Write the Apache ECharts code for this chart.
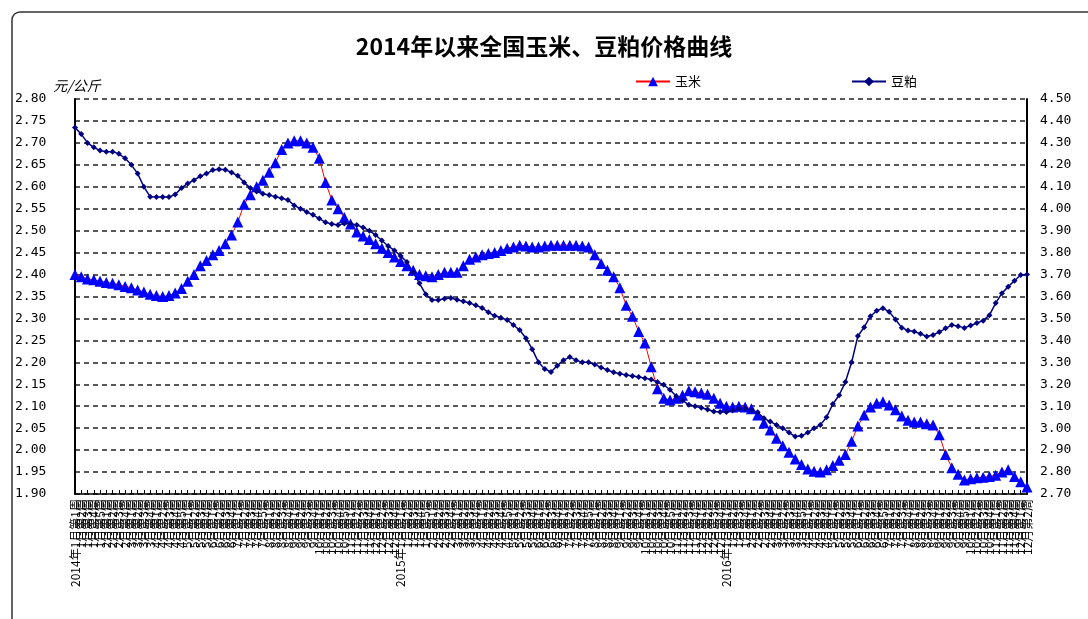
<!DOCTYPE html>
<html>
<head>
<meta charset="utf-8">
<script src="https://cdn.jsdelivr.net/npm/echarts@6/dist/echarts.min.js"></script>
<style>
html,body{margin:0;padding:0;background:#fff;}
#chart{width:1088px;height:619px;}
</style>
</head>
<body>
<div id="chart"></div>
<script>
// Week labels (categories)
const weeks2014 = [
  "2014年1月第1周","1月第2周","1月第3周","1月第4周","1月第5周",
  "2月第1周","2月第2周","2月第3周","2月第4周",
  "3月第1周","3月第2周","3月第3周","3月第4周",
  "4月第1周","4月第2周","4月第3周","4月第4周","4月第5周",
  "5月第1周","5月第2周","5月第3周","5月第4周",
  "6月第1周","6月第2周","6月第3周","6月第4周",
  "7月第1周","7月第2周","7月第3周","7月第4周","7月第5周",
  "8月第1周","8月第2周","8月第3周","8月第4周",
  "9月第1周","9月第2周","9月第3周","9月第4周",
  "10月第1周","10月第2周","10月第3周","10月第4周","10月第5周",
  "11月第1周","11月第2周","11月第3周","11月第4周",
  "12月第1周","12月第2周","12月第3周","12月第4周"
];
const weeks2015 = [
  "2015年1月第1周","1月第2周","1月第3周","1月第4周","1月第5周",
  "2月第1周","2月第2周","2月第3周","2月第4周",
  "3月第1周","3月第2周","3月第3周","3月第4周",
  "4月第1周","4月第2周","4月第3周","4月第4周","4月第5周",
  "5月第1周","5月第2周","5月第3周","5月第4周",
  "6月第1周","6月第2周","6月第3周","6月第4周",
  "7月第1周","7月第2周","7月第3周","7月第4周","7月第5周",
  "8月第1周","8月第2周","8月第3周","8月第4周",
  "9月第1周","9月第2周","9月第3周","9月第4周",
  "10月第1周","10月第2周","10月第3周","10月第4周","10月第5周",
  "11月第1周","11月第2周","11月第3周","11月第4周",
  "12月第1周","12月第2周","12月第3周","12月第4周"
];
const weeks2016 = [
  "2016年1月第1周","1月第2周","1月第3周","1月第4周",
  "2月第1周","2月第2周","2月第3周","2月第4周",
  "3月第1周","3月第2周","3月第3周","3月第4周","3月第5周",
  "4月第1周","4月第2周","4月第3周","4月第4周",
  "5月第1周","5月第2周","5月第3周","5月第4周",
  "6月第1周","6月第2周","6月第3周","6月第4周","6月第5周",
  "7月第1周","7月第2周","7月第3周","7月第4周",
  "8月第1周","8月第2周","8月第3周","8月第4周",
  "9月第1周","9月第2周","9月第3周","9月第4周","9月第5周",
  "10月第1周","10月第2周","10月第3周","10月第4周",
  "11月第1周","11月第2周","11月第3周","11月第4周",
  "12月第1周","12月第2周"
];

// 玉米 (元/公斤, left axis)
const corn2014 = [
  2.40,2.395,2.39,2.388,2.385,2.382,2.38,2.377,2.373,2.37,
  2.365,2.36,2.355,2.352,2.35,2.352,2.358,2.368,2.385,2.40,
  2.42,2.432,2.445,2.455,2.47,2.49,2.52,2.56,2.582,2.60,
  2.615,2.633,2.655,2.685,2.70,2.705,2.705,2.70,2.69,2.665,
  2.61,2.57,2.55,2.53,2.515,2.497,2.488,2.48,2.47,2.46,
  2.45,2.44
];
const corn2015 = [
  2.43,2.42,2.41,2.40,2.397,2.395,2.40,2.405,2.405,2.405,
  2.42,2.435,2.44,2.445,2.448,2.45,2.455,2.46,2.463,2.467,
  2.465,2.463,2.463,2.465,2.467,2.467,2.467,2.467,2.467,2.465,
  2.463,2.445,2.425,2.41,2.395,2.37,2.33,2.305,2.27,2.244,
  2.19,2.14,2.118,2.114,2.118,2.125,2.135,2.133,2.13,2.127,
  2.118,2.107
];
const corn2016 = [
  2.10,2.098,2.10,2.098,2.094,2.08,2.062,2.046,2.027,2.01,
  1.995,1.98,1.967,1.957,1.952,1.95,1.955,1.965,1.977,1.99,
  2.02,2.055,2.08,2.098,2.107,2.11,2.103,2.092,2.078,2.068,
  2.064,2.064,2.06,2.057,2.035,1.99,1.96,1.945,1.932,1.935,
  1.937,1.938,1.94,1.943,1.95,1.955,1.94,1.928,1.916
];

// 豆粕 (right axis)
const soymeal2014 = [
  4.37,4.34,4.30,4.28,4.265,4.26,4.26,4.25,4.23,4.20,
  4.16,4.10,4.055,4.053,4.053,4.053,4.065,4.095,4.115,4.13,
  4.148,4.16,4.176,4.18,4.178,4.165,4.15,4.12,4.094,4.078,
  4.068,4.062,4.055,4.048,4.04,4.015,4.0,3.985,3.972,3.955,
  3.938,3.93,3.926,3.933,3.932,3.926,3.915,3.9,3.88,3.855,
  3.83,3.81
];
const soymeal2015 = [
  3.785,3.757,3.71,3.66,3.61,3.584,3.584,3.59,3.593,3.585,
  3.578,3.57,3.56,3.548,3.528,3.512,3.503,3.493,3.47,3.447,
  3.41,3.36,3.3,3.27,3.256,3.285,3.31,3.324,3.31,3.30,
  3.30,3.29,3.277,3.265,3.255,3.248,3.242,3.238,3.233,3.228,
  3.222,3.21,3.198,3.175,3.145,3.125,3.107,3.1,3.093,3.085,
  3.076,3.074
];
const soymeal2016 = [
  3.074,3.08,3.088,3.09,3.082,3.072,3.045,3.03,3.015,3.0,
  2.98,2.962,2.965,2.98,3.0,3.015,3.05,3.11,3.15,3.21,
  3.30,3.42,3.46,3.51,3.535,3.547,3.53,3.495,3.458,3.445,
  3.44,3.43,3.418,3.425,3.438,3.455,3.47,3.465,3.457,3.468,
  3.479,3.49,3.515,3.57,3.615,3.645,3.672,3.698,3.70
];

const categories = weeks2014.concat(weeks2015, weeks2016);
const cornPrice = corn2014.concat(corn2015, corn2016);
const soymealPrice = soymeal2014.concat(soymeal2015, soymeal2016);

const chart = echarts.init(document.getElementById('chart'));
const labelFont = 'DejaVu Sans Mono';
chart.setOption({
  animation: false,
  backgroundColor: '#fff',
  title: {
    text: '2014年以来全国玉米、豆粕价格曲线',
    left: 'center',
    top: 30,
    textStyle: { fontSize: 23, fontWeight: 'bold', color: '#000', fontFamily: 'Noto Sans CJK SC' }
  },
  graphic: [{
    type: 'rect',
    silent: true,
    shape: { x: 12, y: 12, width: 1200, height: 700, r: 8 },
    style: { fill: 'none', stroke: '#333', lineWidth: 1.5 }
  }],
  legend: {
    data: ['玉米', '豆粕'],
    left: 630,
    top: 70,
    itemGap: 150,
    itemWidth: 34,
    itemHeight: 12,
    textStyle: { fontSize: 13, color: '#000', fontFamily: 'Noto Sans CJK SC' }
  },
  grid: { left: 75, right: 61, top: 99, bottom: 125 },
  xAxis: {
    type: 'category',
    data: categories,
    boundaryGap: false,
    axisLine: { lineStyle: { color: '#000', width: 1.5 } },
    axisTick: { show: true, inside: true, length: 4, interval: 0, lineStyle: { color: '#000' } },
    axisLabel: { interval: 0, rotate: 90, fontSize: 12, color: '#000', margin: 5, fontFamily: 'Noto Sans CJK SC' },
    splitLine: { show: false }
  },
  yAxis: [{
    type: 'value',
    min: 1.9,
    max: 2.8,
    interval: 0.05,
    position: 'left',
    name: '元/公斤',
    nameLocation: 'end',
    nameGap: 6,
    nameTextStyle: { fontSize: 14, fontStyle: 'italic', color: '#000', align: 'center', fontFamily: 'Noto Sans CJK SC', padding: [0, 0, 0, 4] },
    axisLine: { show: true, lineStyle: { color: '#000', width: 2 } },
    axisTick: { show: false },
    axisLabel: { formatter: v => v.toFixed(2), align: 'left', margin: 60, fontSize: 13, color: '#000', fontFamily: labelFont },
    splitLine: { show: true, lineStyle: { type: [5, 4], color: '#222', width: 1.5 } }
  }, {
    type: 'value',
    min: 2.7,
    max: 4.5,
    interval: 0.1,
    position: 'right',
    axisLine: { show: true, lineStyle: { color: '#000', width: 2 } },
    axisTick: { show: false },
    axisLabel: { formatter: v => v.toFixed(2), margin: 13, fontSize: 13, color: '#000', fontFamily: labelFont },
    splitLine: { show: false }
  }],
  series: [{
    name: '玉米',
    type: 'line',
    yAxisIndex: 0,
    data: cornPrice,
    symbol: 'triangle',
    symbolSize: 11,
    showAllSymbol: true,
    itemStyle: { color: '#0000FF' },
    lineStyle: { color: '#FF0000', width: 1 }
  }, {
    name: '豆粕',
    type: 'line',
    yAxisIndex: 1,
    data: soymealPrice,
    symbol: 'diamond',
    symbolSize: 6,
    showAllSymbol: true,
    itemStyle: { color: '#000080' },
    lineStyle: { color: '#000080', width: 1.5 }
  }]
});
</script>
</body>
</html>
